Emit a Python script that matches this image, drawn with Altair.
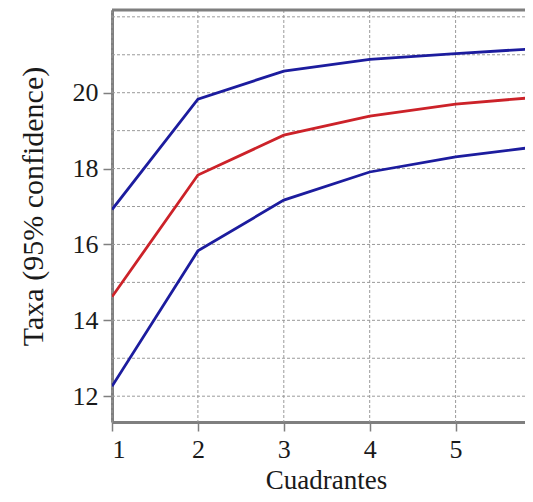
import altair as alt
import pandas as pd

# Data
quadrants = [1, 2, 3, 4, 5, 6]
upper = [16.92, 19.83, 20.57, 20.88, 21.03, 21.17]
mean = [14.62, 17.83, 18.88, 19.38, 19.70, 19.89]
lower = [12.26, 15.83, 17.17, 17.91, 18.31, 18.59]

y_ticks = [12, 14, 16, 18, 20]
y_grid = [12, 13, 14, 15, 16, 17, 18, 19, 20, 21, 22]
x_ticks = [1, 2, 3, 4, 5]
x_grid = [1, 2, 3, 4, 5]

series_names = ["upper", "mean", "lower"]
series_colors = ["#1c1c9e", "#cc2229", "#1c1c9e"]

rows = []
for name, vals in zip(series_names, [upper, mean, lower]):
    for q, v in zip(quadrants, vals):
        rows.append({"q": q, "v": v, "s": name})
df = pd.DataFrame(rows)

FONT = "'Times New Roman', 'Liberation Serif', 'DejaVu Serif', serif"
GRAY = "#7f7f7f"
W, H = 413, 412

x_scale = alt.Scale(domain=[1, 5.808], nice=False, zero=False)
y_scale = alt.Scale(domain=[11.32, 22.18], nice=False, zero=False)

x_axis = alt.Axis(
    values=x_ticks,
    format="d",
    title="Cuadrantes",
    grid=False,
    titleX=214,
    titleY=45,
)
y_axis = alt.Axis(
    values=y_ticks,
    format="d",
    title="Taxa (95% confidence)",
    grid=False,
    titleX=-64,
    titleY=196,
)

hgrid = alt.Chart(pd.DataFrame({"g": y_grid})).mark_rule(
    color="#9a9a9a", strokeWidth=1, strokeDash=[3, 2]
).encode(y=alt.Y("g:Q", scale=y_scale, axis=y_axis))

vgrid = alt.Chart(pd.DataFrame({"g": x_grid})).mark_rule(
    color="#9a9a9a", strokeWidth=1, strokeDash=[3, 2]
).encode(x=alt.X("g:Q", scale=x_scale, axis=x_axis))

top_border = alt.Chart(pd.DataFrame({"a": [0]})).mark_rule(
    color=GRAY, strokeWidth=3
).encode(x=alt.value(0), x2=alt.value(W), y=alt.value(0))

lines = alt.Chart(df).mark_line(strokeWidth=2.8, clip=True).encode(
    x=alt.X("q:Q", scale=x_scale, axis=x_axis),
    y=alt.Y("v:Q", scale=y_scale, axis=y_axis),
    color=alt.Color(
        "s:N",
        scale=alt.Scale(domain=series_names, range=series_colors),
        legend=None,
    ),
    detail="s:N",
)

chart = (
    alt.layer(hgrid, vgrid, lines, top_border)
    .properties(
        width=W,
        height=H,
        padding={"left": 104, "top": 2, "right": 0, "bottom": 72},
        autosize=alt.AutoSizeParams(type="none"),
        background="white",
    )
    .configure_view(stroke=None)
    .configure_axis(
        domainColor=GRAY,
        domainWidth=3,
        tickColor=GRAY,
        tickWidth=1.5,
        tickSize=9,
        labelFont=FONT,
        labelFontSize=26,
        labelColor="#1a1a1a",
        labelPadding=5,
        titleFont=FONT,
        titleFontSize=27,
        titleFontWeight="normal",
        titleColor="#1a1a1a",
        zindex=1,
    )
    .configure_axisY(titleFontSize=30)
)

chart.save("out.html", embed_options={"renderer": "svg", "actions": False})
